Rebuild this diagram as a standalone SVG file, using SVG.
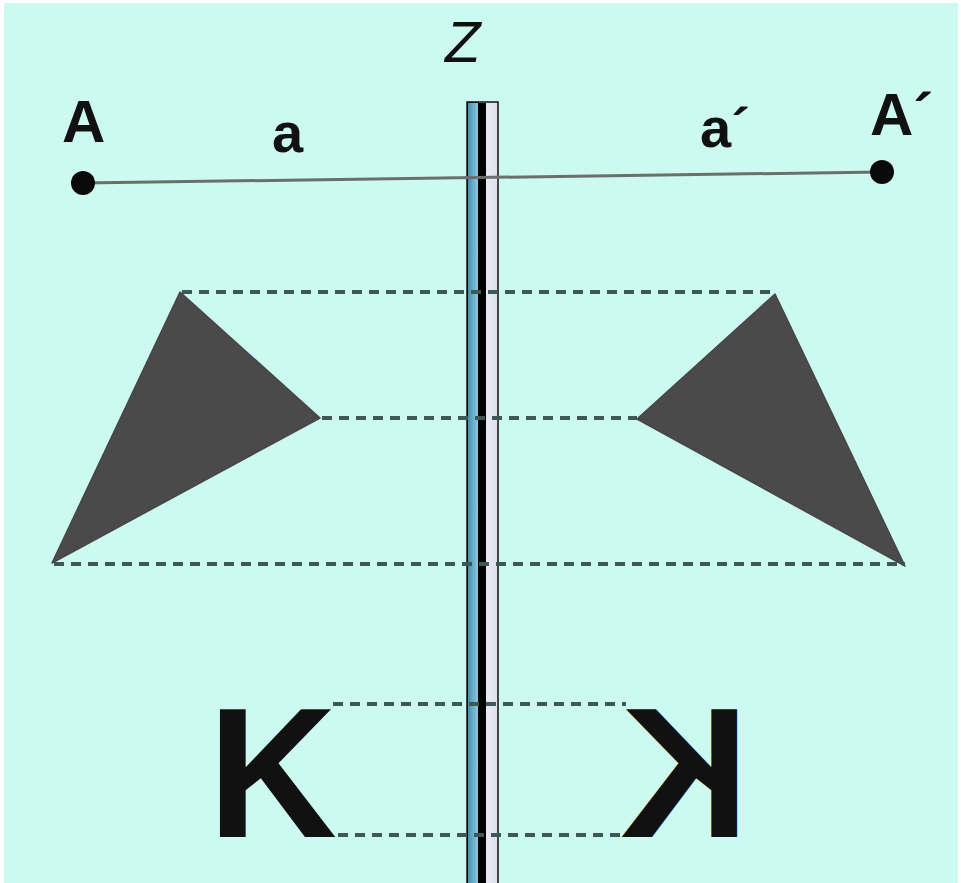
<svg xmlns="http://www.w3.org/2000/svg" width="961" height="883" viewBox="0 0 961 883">
<defs>
<linearGradient id="blue" x1="0" y1="0" x2="1" y2="0">
<stop offset="0" stop-color="#3f8fae"/>
<stop offset="1" stop-color="#8fcbe0"/>
</linearGradient>
<linearGradient id="wh" x1="0" y1="0" x2="1" y2="0">
<stop offset="0" stop-color="#f8f8fb"/>
<stop offset="1" stop-color="#e0e0ec"/>
</linearGradient>
<style>
.lbl{font-family:"Liberation Sans",Arial,sans-serif;font-weight:bold;fill:#111;}
.dash{stroke:#3c5955;stroke-width:4;stroke-dasharray:10 7;fill:none;}
.tri{fill:#4a4a4a;stroke:#464646;stroke-width:1.5;stroke-linejoin:round;}
</style>
</defs>
<rect width="961" height="883" fill="#ffffff"/>
<rect x="4" y="3" width="954" height="880" fill="#ccfaf0"/>

<g id="mirror">
<rect x="467" y="102" width="31" height="790" fill="url(#wh)" stroke="#111" stroke-width="1.5"/>
<rect x="467.5" y="102.5" width="11" height="790" fill="url(#blue)" stroke="#111" stroke-width="1"/>
<rect x="478" y="103" width="8" height="790" fill="#000"/>
</g>
<text id="label-z" x="445" y="62" font-family="Liberation Sans,Arial,sans-serif" font-style="italic" font-size="58" fill="#111">Z</text>

<g id="triangle-left"><polygon class="tri" points="180,292 320,418 52,563"/></g>
<g id="triangle-right"><polygon class="tri" points="775,294 637,419 905,566"/></g>

<g id="K-left"><text class="lbl" transform="translate(221,837) scale(0.96,1)" x="-13.6" y="0" font-size="186">K</text></g>
<g id="K-right"><text class="lbl" transform="translate(736,837) scale(-0.96,1)" x="-13.6" y="0" font-size="186">K</text></g>

<g id="connectors">
<line x1="83" y1="183" x2="882" y2="172" stroke="#6a6e6c" stroke-width="3"/>
<line class="dash" x1="182" y1="292" x2="773" y2="292"/>
<line class="dash" x1="322" y1="418" x2="637" y2="418"/>
<line class="dash" x1="54" y1="564" x2="905" y2="564"/>
<line class="dash" x1="333" y1="704" x2="626" y2="704"/>
<line class="dash" x1="338" y1="835" x2="621" y2="835"/>
</g>

<g id="point-A">
<circle cx="83" cy="183" r="12" fill="#0a0a0a"/>
<text class="lbl" x="62" y="142" font-size="60">A</text>
</g>
<g id="point-A2">
<circle cx="882" cy="172" r="12" fill="#0a0a0a"/>
<text class="lbl" x="870" y="135" font-size="60">A´</text>
</g>
<text id="label-a" class="lbl" x="272" y="152" font-size="56">a</text>
<text id="label-a2" class="lbl" x="700" y="147" font-size="56">a´</text>
</svg>
